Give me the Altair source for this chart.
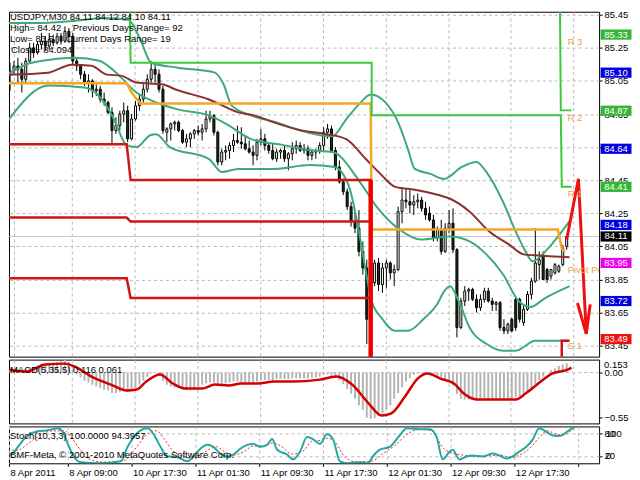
import json
import altair as alt
import pandas as pd

FONT = "Liberation Sans"
W = 592
H_MAIN, H_MACD, H_STO = 346, 64, 37
FS = 9.5

# ---------------- data ----------------
time_ticks = [-0.25, 15.75, 31.75, 47.75, 63.75, 79.75, 95.75, 111.75, 127.75, 143.75]
time_labels = ["8 Apr 2011", "8 Apr 09:00", "10 Apr 17:30", "11 Apr 01:30", "11 Apr 09:30",
               "11 Apr 17:30", "12 Apr 01:30", "12 Apr 09:30", "12 Apr 17:30", ""]
price_ticks = [85.45, 85.25, 85.05, 84.85, 84.65, 84.45, 84.25, 84.05, 83.85, 83.65, 83.45]

opens = [85.09,85.11,85.14,85.12,85.06,85.17,85.25,85.22,85.27,85.29,
         85.26,85.30,85.28,85.32,85.29,85.35,85.32,85.17,85.14,85.09,
         85.04,85.05,84.99,85.00,84.94,84.92,84.86,84.75,84.78,84.85,
         84.87,84.70,84.82,84.90,84.94,85.00,85.06,85.12,85.09,85.00,
         84.74,84.76,84.79,84.80,84.75,84.68,84.70,84.73,84.75,84.74,
         84.76,84.82,84.84,84.74,84.56,84.62,84.63,84.66,84.69,84.68,
         84.67,84.64,84.62,84.60,84.68,84.70,84.66,84.63,84.58,84.62,
         84.63,84.58,84.61,84.64,84.66,84.63,84.64,84.60,84.62,84.63,
         84.66,84.74,84.76,84.63,84.53,84.44,84.38,84.29,84.20,84.16,
         84.02,83.92,83.61,83.83,83.95,83.82,83.92,83.95,83.89,83.91,
         84.26,84.33,84.32,84.30,84.32,84.33,84.28,84.25,84.21,84.10,
         84.15,84.02,84.16,84.19,84.03,83.56,83.72,83.78,83.79,83.73,
         83.68,83.73,83.78,83.72,83.70,83.71,83.56,83.54,83.61,83.73,
         83.73,83.59,83.67,83.76,83.84,83.94,83.99,83.91,83.87,83.89,
         83.90,83.94,84.05]
highs = [85.16,85.17,85.19,85.16,85.19,85.28,85.28,85.29,85.34,85.32,
         85.34,85.33,85.34,85.34,85.38,85.37,85.34,85.19,85.15,85.11,
         85.09,85.06,85.03,85.02,84.98,84.93,84.89,84.83,84.87,84.92,
         84.90,84.85,84.93,84.97,85.03,85.09,85.17,85.16,85.12,85.02,
         84.77,84.80,84.81,84.81,84.76,84.73,84.74,84.76,84.78,84.79,
         84.87,84.87,84.85,84.75,84.64,84.66,84.68,84.73,84.78,84.77,
         84.72,84.69,84.66,84.70,84.76,84.73,84.68,84.67,84.64,84.64,
         84.66,84.62,84.68,84.69,84.68,84.67,84.66,84.63,84.64,84.68,
         84.77,84.79,84.78,84.65,84.57,84.46,84.40,84.32,84.26,84.27,
         84.08,83.97,83.87,83.97,83.98,83.95,83.97,83.96,83.94,84.29,
         84.41,84.40,84.39,84.36,84.37,84.35,84.32,84.29,84.24,84.17,
         84.21,84.19,84.27,84.28,84.04,83.74,83.81,83.80,83.80,83.76,
         83.76,83.80,83.80,83.74,83.72,83.72,83.61,83.59,83.62,83.74,
         83.74,83.69,83.78,83.86,84.16,84.02,84.02,83.92,83.91,83.95,
         83.94,84.06,84.12]
lows = [84.99,85.09,85.04,84.98,85.04,85.16,85.19,85.21,85.24,85.23,
        85.24,85.26,85.27,85.27,85.28,85.28,85.15,85.11,85.06,85.02,
        84.98,84.95,84.96,84.92,84.90,84.85,84.67,84.73,84.75,84.80,
        84.68,84.69,84.81,84.87,84.92,84.98,85.04,85.04,84.98,84.73,
        84.68,84.69,84.75,84.74,84.67,84.65,84.65,84.70,84.72,84.69,
        84.74,84.80,84.72,84.54,84.54,84.57,84.58,84.62,84.67,84.64,
        84.63,84.61,84.54,84.57,84.66,84.63,84.61,84.57,84.56,84.58,
        84.56,84.51,84.57,84.61,84.62,84.61,84.57,84.57,84.58,84.61,
        84.62,84.70,84.62,84.51,84.43,84.36,84.27,84.17,84.13,83.99,
        83.88,83.46,83.53,83.81,83.78,83.77,83.80,83.85,83.81,83.90,
        84.19,84.28,84.25,84.24,84.28,84.26,84.21,84.20,84.08,84.08,
        84.00,84.01,84.13,84.01,83.50,83.55,83.69,83.72,83.72,83.65,
        83.66,83.71,83.71,83.66,83.66,83.54,83.52,83.52,83.53,83.54,
        83.59,83.57,83.66,83.73,83.83,83.85,83.85,83.83,83.85,83.88,
        83.89,83.93,84.03]
closes = [85.11,85.14,85.12,85.06,85.17,85.25,85.22,85.27,85.29,85.26,
          85.30,85.28,85.32,85.29,85.35,85.32,85.17,85.14,85.09,85.04,
          85.05,84.99,85.00,84.94,84.92,84.86,84.75,84.78,84.85,84.87,
          84.70,84.82,84.90,84.94,85.00,85.06,85.12,85.09,85.00,84.75,
          84.76,84.79,84.80,84.75,84.68,84.70,84.73,84.75,84.74,84.76,
          84.82,84.84,84.74,84.56,84.62,84.63,84.66,84.69,84.68,84.67,
          84.64,84.62,84.60,84.68,84.70,84.66,84.63,84.58,84.62,84.63,
          84.58,84.61,84.64,84.66,84.63,84.64,84.60,84.62,84.63,84.66,
          84.74,84.76,84.63,84.53,84.44,84.38,84.29,84.20,84.16,84.02,
          83.92,83.61,83.83,83.95,83.82,83.92,83.95,83.89,83.91,84.26,
          84.33,84.32,84.30,84.32,84.33,84.28,84.24,84.21,84.10,84.15,
          84.02,84.16,84.19,84.03,83.56,83.72,83.78,83.79,83.73,83.68,
          83.73,83.78,83.72,83.70,83.71,83.56,83.54,83.58,83.54,83.56,
          83.61,83.67,83.76,83.84,83.95,83.97,83.85,83.85,83.91,83.94,
          83.93,84.04,84.11]

# slow moving average (brown)
ma_i = [-0.5, 9.75, 15.75, 20.75, 24.75, 28.25, 32.25, 39, 42.25, 50.75, 58.25, 62.25, 67.25, 74,
        80.75, 85.75, 90.75, 94.75, 98.25, 103.25, 109, 112.25, 117.25, 122.25, 127.25, 131, 134, 142.75]
ma_p = [85.088, 85.10, 85.148, 85.142, 85.088, 85.082, 85.04, 85.028, 84.998, 84.938, 84.86, 84.842,
        84.80, 84.752, 84.728, 84.698, 84.578, 84.482, 84.41, 84.392, 84.362, 84.338, 84.26, 84.14,
        84.062, 84.002, 83.996, 83.984]

# Bollinger bands (teal)
bbu_i = [-0.5, 6.5, 15.75, 24, 30.25, 33.25, 36, 42.75, 52.25, 54.5, 56.5, 61.5, 67.75, 74, 79, 82.25,
         85.75, 89, 92, 95.75, 99, 101.5, 103.25, 107.25, 110.75, 115.25, 119, 121.5, 125.75, 129,
         131.5, 133.25, 137.25, 140.75, 143.25]
bbu_p = [85.40, 85.40, 85.412, 85.43, 85.418, 85.298, 85.16, 85.13, 85.10, 85.028, 84.902, 84.842,
         84.80, 84.752, 84.722, 84.716, 84.818, 84.908, 84.968, 84.92, 84.80, 84.638, 84.518, 84.488,
         84.458, 84.53, 84.56, 84.50, 84.32, 84.14, 84.02, 83.96, 84.038, 84.14, 84.218]
bbm_i = [-0.5, 4, 10.25, 16.5, 22.75, 26.5, 32.25, 37.25, 42.75, 50.75, 55.75, 61.5, 69.75, 76.5,
         82.25, 89.75, 93.5, 99, 104.75, 112.25, 117.25, 121.5, 125.75, 129.75, 132.75, 136.5, 142.75]
bbm_p = [85.088, 85.148, 85.178, 85.19, 85.172, 85.112, 84.98, 84.92, 84.878, 84.842, 84.782, 84.698,
         84.662, 84.632, 84.62, 84.422, 84.29, 84.158, 84.092, 84.11, 84.08, 84.002, 83.882, 83.72,
         83.684, 83.738, 83.81]
bbl_i = [-0.5, 9.75, 19, 24, 26.5, 29.75, 32.25, 35.75, 37.25, 40.75, 50.75, 54, 58.25, 67.25, 76.5,
         82.75, 86.5, 89, 90.75, 92.25, 94.75, 98.25, 101.5, 105.75, 109, 110.75, 112.25, 114.75,
         117.25, 121.5, 125.75, 129, 134, 142.25]
bbl_p = [84.812, 85.022, 85.01, 84.92, 84.818, 84.662, 84.65, 84.722, 84.728, 84.65, 84.578, 84.50,
         84.518, 84.518, 84.542, 84.53, 84.41, 84.14, 83.90, 83.72, 83.618, 83.54, 83.54, 83.618,
         83.702, 83.78, 83.81, 83.702, 83.558, 83.462, 83.42, 83.42, 83.48, 83.48]

# daily pivot step (orange)
piv_i = [-0.5, 29.75, 31.0, 33.25, 92.0, 92.25, 139.75, 140.75, 141.5]
piv_p = [85.036, 85.036, 84.98, 84.914, 84.914, 84.152, 84.152, 84.038, 84.02]
# support steps (red)
sup1_i = [-0.5, 29.75, 30.75, 92.0, 92.0]
sup1_p = [84.668, 84.668, 84.452, 84.452, 83.30]
sup2_i = [-0.5, 29.75, 30.75, 92.0, 92.0]
sup2_p = [84.224, 84.224, 84.20, 84.20, 83.30]
sup3_i = [-0.5, 29.75, 30.75, 92.0, 92.0]
sup3_p = [83.858, 83.858, 83.738, 83.738, 83.30]
supn_i = [140.75, 140.75, 142.75]
supn_p = [83.30, 83.48, 83.48]
# resistance steps (green)
res1_i = [30.5, 30.75, 92.25, 92.25, 140.5, 140.75, 143.25]
res1_p = [85.60, 85.16, 85.16, 84.842, 84.842, 84.41, 84.41]
res2_i = [140.25, 140.5, 143.25]
res2_p = [85.60, 84.872, 84.872]
# projection arrow (red)
arrow_i = [142.0, 145.0, 147.0]
arrow_p = [84.092, 84.458, 83.522]
head_i = [144.75, 147.0, 148.0]
head_p = [83.708, 83.522, 83.70]

level_prices = [85.33, 85.10, 84.87, 84.64, 84.41, 84.18, 83.95, 83.72, 83.49]
level_kinds = ["R", "B", "R", "B", "R", "B", "P", "B", "S"]
current_price = 84.11
box_prices = [85.33, 85.10, 84.87, 84.64, 84.41, 84.18, 84.11, 83.95, 83.72, 83.49]
box_colors = ["#35B535", "#0000E0", "#35B535", "#0000E0", "#35B535", "#0000E0",
              "#000000", "#F000F0", "#0000E0", "#F01010"]
name_texts = ["R 3", "R 2", "R 1", "Pivot Point", "S 1"]
name_prices = [85.33, 84.87, 84.41, 83.95, 83.49]
name_i = 142.25

macd_hist = [0.03,0.02,0.02,0.01,0.03,0.06,0.07,0.09,0.11,0.11,
             0.12,0.12,0.13,0.14,0.153,0.13,0.04,-0.02,-0.06,-0.10,
             -0.12,-0.15,-0.17,-0.19,-0.21,-0.22,-0.25,-0.25,-0.24,-0.23,
             -0.24,-0.22,-0.19,-0.15,-0.10,-0.05,-0.01,0.0,-0.03,-0.10,
             -0.15,-0.17,-0.18,-0.19,-0.21,-0.21,-0.21,-0.19,-0.17,-0.15,
             -0.13,-0.12,-0.12,-0.15,-0.14,-0.13,-0.12,-0.11,-0.11,-0.12,
             -0.12,-0.13,-0.13,-0.11,-0.09,-0.09,-0.09,-0.09,-0.08,-0.08,
             -0.08,-0.08,-0.07,-0.07,-0.07,-0.07,-0.07,-0.06,-0.06,-0.05,
             -0.03,-0.02,-0.04,-0.06,-0.09,-0.14,-0.20,-0.26,-0.32,-0.40,
             -0.46,-0.55,-0.57,-0.56,-0.53,-0.50,-0.45,-0.40,-0.32,-0.25,
             -0.18,-0.11,-0.07,-0.03,-0.01,-0.01,-0.01,-0.02,-0.03,-0.04,
             -0.06,-0.08,-0.11,-0.16,-0.26,-0.32,-0.33,-0.33,-0.33,-0.33,
             -0.33,-0.33,-0.33,-0.33,-0.33,-0.33,-0.33,-0.32,-0.31,-0.30,
             -0.29,-0.27,-0.24,-0.20,-0.14,-0.09,-0.05,0.0,0.03,0.05,
             0.08,0.10,0.116]
ms_i = [-0.5, 4, 9, 14, 16.5, 20.75, 25.75, 29.75, 32.25, 34.75, 38.25, 41.5, 44.75, 49, 52.25, 55.75,
        59, 63.25, 67.25, 72.25, 79, 83.25, 87.25, 91.5, 94.75, 97.25, 100.75, 104, 106.5, 109.75,
        113.25, 115.75, 119, 124, 129, 131.5, 134.75, 138.25, 142.25, 143.25]
ms_v = [0.037, 0.012, 0.098, 0.11, 0.073, -0.049, -0.147, -0.22, -0.208, -0.11, -0.024, -0.134,
        -0.196, -0.196, -0.147, -0.159, -0.134, -0.134, -0.11, -0.11, -0.086, -0.049, -0.147, -0.379,
        -0.526, -0.5, -0.293, -0.073, -0.012, -0.073, -0.134, -0.257, -0.33, -0.33, -0.33, -0.257,
        -0.134, -0.012, 0.037, 0.061]

sto_i = [-0.25, 1.5, 3.25, 5.25, 8.25, 10.75, 13.25, 14.5, 15.75, 17.25, 19, 24, 29, 30.75, 32.25, 34,
         35.75, 37.25, 39, 40.75, 42.25, 44, 45.75, 47.25, 49, 50.75, 52.25, 54, 55.75, 57.25, 59,
         60.75, 62.25, 64, 65.75, 67, 68.25, 70.75, 72.25, 74, 75.75, 77.25, 79, 80.75, 82.25, 84,
         85.75, 89, 91, 92.25, 94, 96.5, 99, 100.75, 104, 106.5, 108.25, 109.75, 111.5, 112.25, 114,
         115.75, 117.25, 119.75, 122.25, 124, 125.75, 127.25, 129, 130.75, 132.25, 134, 134.75,
         137.25, 139, 140.75, 142.25, 143.25]
sto_v = [36.8, 23.7, 44.7, 71, 86.8, 89.5, 94.7, 84, 52.6, 18.4, 2.6, 0, 5.3, 44.7, 71, 89.5, 94.7, 79,
         44.7, 18.4, 18.4, 13, 5.3, 18.4, 39.5, 50, 44.7, 26.3, 18.4, 23.7, 39.5, 50, 52.6, 44.7, 50,
         65.8, 36.8, 23.7, 10.5, 31.6, 71, 65.8, 52.6, 79, 65.8, 5.3, 0, 2.6, 0, 18.4, 36.8, 44.7, 76,
         94.7, 92, 92, 71, 10.5, 31.6, 36.8, 10.5, 18.4, 21, 18.4, 26.3, 21, 13, 18.4, 31.6, 44.7, 63,
         94.7, 92, 76, 73.7, 84, 94.7, 100]
sig_i = [-0.25, 3, 6, 9, 12, 15, 17, 19, 21, 25, 30, 32, 34, 36, 38, 40, 42, 45, 47, 50, 53, 55, 57,
         60, 62, 65, 67, 69, 72, 75, 77, 79, 81, 83, 85, 88, 92, 95, 98, 101, 104, 107, 110, 112, 115,
         118, 121, 124, 127, 130, 132, 134, 136, 138, 140, 142, 143.25]
sig_v = [40, 35, 55, 78, 88, 88, 65, 35, 12, 3, 8, 30, 58, 82, 88, 65, 35, 18, 12, 30, 45, 32, 22, 32,
         46, 48, 55, 48, 25, 35, 60, 62, 68, 55, 20, 4, 6, 28, 50, 80, 92, 88, 40, 28, 22, 18, 20, 22,
         16, 28, 45, 70, 88, 80, 76, 88, 94.4]

# ---------------- helpers ----------------
GRID = "#B9B9B9"
X0 = 1.0   # first bar position visible at the plot's left edge
xs = alt.Scale(domain=[X0, 149], nice=False, zero=False)
ys_main = alt.Scale(domain=[83.384, 85.468], nice=False, zero=False)
ys_macd = alt.Scale(domain=[-0.623, 0.159], nice=False, zero=False)
ys_sto = alt.Scale(domain=[0, 100], nice=False, zero=False)

tick_vals = [max(t, X0) for t in time_ticks]
x_grid_axis = alt.Axis(values=tick_vals, labels=False, ticks=False, domain=False, grid=True,
                       gridDash=[3, 3], gridColor=GRID, title=None)
label_expr = json.dumps(time_labels) + "[round((datum.value + 0.25) / 16)]"
x_bottom_axis = alt.Axis(values=tick_vals, labelExpr=label_expr, grid=True, gridDash=[3, 3],
                         gridColor=GRID, ticks=True, tickSize=3, tickColor="black", domain=False,
                         labelAlign="left", labelPadding=1, labelOffset=1, title=None,
                         labelOverlap=False, labelBound=False, labelFlush=False)
y_main_axis = alt.Axis(orient="right", values=price_ticks, format=".2f", grid=True, gridDash=[3, 3],
                       gridColor=GRID, tickSize=3, tickColor="black", labelPadding=2, domain=False,
                       title=None, labelOverlap=False)
y_macd_axis = alt.Axis(orient="right", values=[0, -0.55], format=".2f", grid=False, tickSize=3,
                       tickColor="black", labelPadding=2, domain=False, title=None, labelOverlap=False)
y_sto_axis = alt.Axis(orient="right", values=[80, 20], grid=True, gridDash=[3, 3], gridColor=GRID,
                      tickSize=3, tickColor="black", labelPadding=2, domain=False, title=None,
                      labelOverlap=False)


def X(f="i", axis=x_grid_axis):
    return alt.X(f"{f}:Q", scale=xs, axis=axis)


def YM(f="p"):
    return alt.Y(f"{f}:Q", scale=ys_main, axis=y_main_axis)


def line_df(ii, pp):
    return pd.DataFrame({"i": ii, "p": pp, "k": list(range(len(ii)))})


def main_line(ii, pp, color, width, interp="linear"):
    return alt.Chart(line_df(ii, pp)).mark_line(
        color=color, strokeWidth=width, interpolate=interp, clip=True
    ).encode(x=X(), y=YM(), order="k:Q")


def note(text, x, y, size=FS, color="black", align="left"):
    return alt.Chart(pd.DataFrame({"a": [0]})).mark_text(
        text=text, align=align, baseline="middle", font=FONT, fontSize=size, color=color
    ).encode(x=alt.value(x), y=alt.value(y))


# ---------------- main pane ----------------
layers = []
levels_df = pd.DataFrame({"p": level_prices, "kind": level_kinds})
styles = {"R": ("#3CC83C", [5, 3]), "B": ("#000090", [7, 3, 2, 3]),
          "P": ("#E000E0", [4, 3]), "S": ("#B01818", [5, 3])}
for k, (col, dash) in styles.items():
    layers.append(alt.Chart(levels_df).transform_filter(alt.datum.kind == k).mark_rule(
        color=col, strokeDash=dash, strokeWidth=1).encode(x=X(), y=YM()))
layers.append(alt.Chart(pd.DataFrame({"p": [current_price]})).mark_rule(
    color="#C8C8C8", strokeWidth=1).encode(y=YM()))

candles = pd.DataFrame({"i": list(range(len(opens))), "o": opens, "h": highs, "l": lows, "c": closes})
layers.append(alt.Chart(candles).mark_rule(color="black", strokeWidth=1, clip=True).encode(
    x=X(), y=YM("l"), y2="h:Q"))
layers.append(alt.Chart(candles).mark_bar(size=2, stroke="black", strokeWidth=1, clip=True).encode(
    x=X(), y=YM("o"), y2="c:Q",
    fill=alt.condition("datum.c >= datum.o", alt.value("white"), alt.value("#123812"))))

TEAL = "#3DAA78"
layers.append(main_line(bbu_i, bbu_p, TEAL, 2, "monotone"))
layers.append(main_line(bbm_i, bbm_p, TEAL, 2, "monotone"))
layers.append(main_line(bbl_i, bbl_p, TEAL, 2, "monotone"))
layers.append(main_line(ma_i, ma_p, "#8E3030", 2, "monotone"))
layers.append(main_line(piv_i, piv_p, "#F5A623", 2.5))
for ii, pp in [(sup1_i, sup1_p), (sup2_i, sup2_p), (sup3_i, sup3_p), (supn_i, supn_p)]:
    layers.append(main_line(ii, pp, "#D01515", 2.5))
layers.append(alt.Chart(pd.DataFrame({"i": [sup1_i[-1]], "p": [sup1_p[-2]], "p2": [sup1_p[-1]]}))
              .mark_rule(color="#F00000", strokeWidth=4.5, clip=True)
              .encode(x=X(), y=YM(), y2="p2:Q"))
layers.append(main_line(res1_i, res1_p, "#3CC83C", 2))
layers.append(main_line(res2_i, res2_p, "#3CC83C", 2))
layers.append(main_line(arrow_i, arrow_p, "#EE1111", 3))
layers.append(main_line(head_i, head_p, "#EE1111", 3))

names_df = pd.DataFrame({"t": name_texts, "p": name_prices, "i": [name_i] * len(name_texts)})
layers.append(alt.Chart(names_df).mark_text(
    align="left", baseline="top", dy=2, color="#E8A448", font=FONT, fontSize=FS, clip=True
).encode(x=X(), y=YM(), text="t:N"))

layers += [
    note("USDJPY,M30  84.11 84.12 84.10 84.11", 1, 5),
    note("High= 84.42", 1, 16),
    note("Previous Days Range= 92", 64, 16),
    note("Low= 83.5", 1, 27),
    note("Current Days Range= 19", 57, 27),
    note("Close= 84.094", 2, 38),
]

BOX = "M-1,-0.33L1,-0.33L1,0.33L-1,0.33Z"
box_df = pd.DataFrame({"p": box_prices, "col": box_colors})
layers.append(alt.Chart(box_df).mark_point(shape=BOX, size=961, filled=True, opacity=1, strokeWidth=0)
              .encode(x=alt.value(W + 17), y=YM(), color=alt.Color("col:N", scale=None)))
layers.append(alt.Chart(box_df).mark_text(color="white", font=FONT, fontSize=FS, align="center",
                                          baseline="middle")
              .encode(x=alt.value(W + 17), y=YM(), text=alt.Text("p:Q", format=".2f")))

main = alt.layer(*layers).properties(width=W, height=H_MAIN)

# ---------------- MACD pane ----------------
macd_df = pd.DataFrame({"i": list(range(len(macd_hist))), "v": macd_hist})
macd_y = alt.Y("v:Q", scale=ys_macd, axis=y_macd_axis)
macd = alt.layer(
    alt.Chart(pd.DataFrame({"v": [0.0]})).mark_rule(color=GRID, strokeDash=[3, 3]).encode(y=macd_y),
    alt.Chart(macd_df).transform_calculate(zero="0").mark_bar(size=2, color="#B4B4B4", clip=True).encode(
        x=X(), y=macd_y, y2="zero:Q"),
    alt.Chart(pd.DataFrame({"i": ms_i, "v": ms_v})).mark_line(
        color="#D40000", strokeWidth=2.5, interpolate="monotone", clip=True).encode(x=X(), y=macd_y),
    alt.Chart(pd.DataFrame({"v": [0.153]})).mark_text(
        text="0.153", align="left", baseline="top", font=FONT, fontSize=FS, color="black"
    ).encode(x=alt.value(W + 5), y=macd_y),
    note("MACD(5,35,5) 0.116 0.061", 1, 10),
).properties(width=W, height=H_MACD)

# ---------------- Stochastic pane ----------------
sto_y = alt.Y("v:Q", scale=ys_sto, axis=y_sto_axis)
xb = X(axis=x_bottom_axis)
sto = alt.layer(
    alt.Chart(pd.DataFrame({"i": sig_i, "v": sig_v})).mark_line(
        color="#FF2020", strokeWidth=1, strokeDash=[2, 2], interpolate="monotone", clip=True
    ).encode(x=xb, y=sto_y),
    alt.Chart(pd.DataFrame({"i": sto_i, "v": sto_v})).mark_line(
        color="#22A8A0", strokeWidth=2, interpolate="monotone", clip=True).encode(x=xb, y=sto_y),
    alt.Chart(pd.DataFrame({"v": [80, 20], "t": ["100", "0"]})).mark_text(
        align="left", baseline="middle", font=FONT, fontSize=FS, color="black", dx=2
    ).encode(x=alt.value(W + 5), y=sto_y, text="t:N"),
    note("Stoch(10,3,3) 100.0000 94.3957", 1, 10),
    note("BMF-Meta, \u00a9 2001-2010 MetaQuotes Software Corp.", 1, 29),
).properties(width=W, height=H_STO)

chart = alt.vconcat(main, macd, sto, spacing=3, bounds="flush").properties(
    padding=0
).configure(background="white").configure_view(
    stroke="black", strokeWidth=1
).configure_axis(labelFont=FONT, labelFontSize=FS, labelColor="black")

chart.save("out.html", embed_options={"renderer": "svg", "actions": False})
